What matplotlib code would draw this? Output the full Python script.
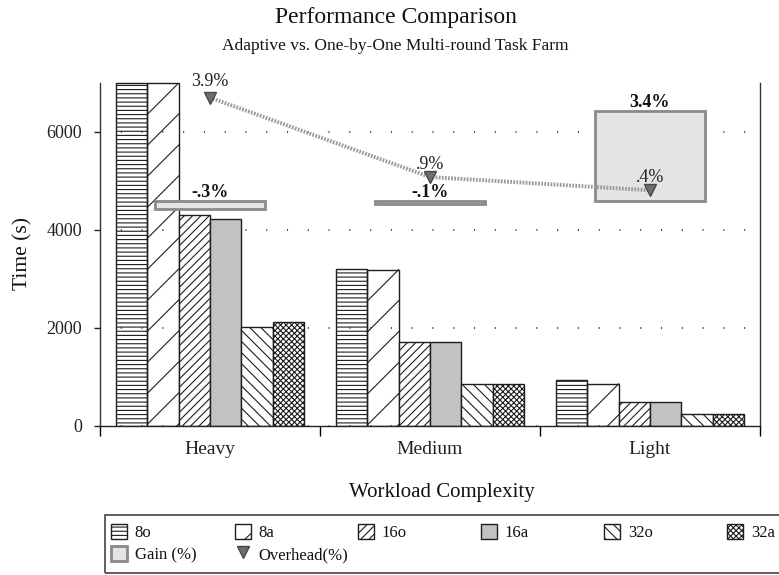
import numpy as np
import matplotlib
matplotlib.use("Agg")
import matplotlib.pyplot as plt
from matplotlib.patches import Patch, Rectangle
from matplotlib.lines import Line2D
from matplotlib.legend_handler import HandlerBase

plt.rcParams['font.family'] = ['Liberation Serif', 'DejaVu Serif']
plt.rcParams['hatch.linewidth'] = 0.8

# ---- data -------------------------------------------------------------
categories = ['Heavy', 'Medium', 'Light']
series_names = ['8o', '8a', '16o', '16a', '32o', '32a']

time_8o = [8300, 3210, 940]
time_8a = [8280, 3190, 860]
time_16o = [4300, 1710, 480]
time_16a = [4220, 1720, 480]
time_32o = [2020, 860, 240]
time_32a = [2120, 860, 240]

gain_pct = [-0.3, -0.1, 3.4]
overhead_pct = [3.9, 0.9, 0.4]

y_ticks = [0, 2000, 4000, 6000]


def pct_label(v):
    s = f"{v:.1f}"
    return s.replace('0.', '.') + '%'


# ---- figure / axes ----------------------------------------------------
W, H = 779, 575
fig = plt.figure(figsize=(W / 100, H / 100), dpi=100)
fig.patch.set_facecolor('white')
ax = fig.add_axes([100 / W, (H - 426) / H, 660 / W, 343 / H])
ax.set_xlim(-0.5, 2.5)
ax.set_ylim(0, 7000)

edge = '#1e1e1e'
styles = {
    '8o': dict(facecolor='none', hatch='----'),
    '8a': dict(facecolor='none', hatch=None),
    '16o': dict(facecolor='white', hatch='////'),
    '16a': dict(facecolor='#c2c2c2', hatch=None),
    '32o': dict(facecolor='white', hatch='\\\\\\'),
    '32a': dict(facecolor='white', hatch='xxxxxx'),
}
values = dict(zip(series_names,
                  [time_8o, time_8a, time_16o, time_16a, time_32o, time_32a]))

x = np.arange(len(categories))
bw = 0.1424
containers = {}
for i, name in enumerate(series_names):
    off = (i - (len(series_names) - 1) / 2) * bw
    containers[name] = ax.bar(x + off, values[name], width=bw,
                              edgecolor=edge, linewidth=1.0, zorder=2,
                              **styles[name])

# bars that run past the top of the scale keep a closing edge at the limit
ymax = ax.get_ylim()[1]
for name in series_names:
    for rect in containers[name]:
        if rect.get_height() > ymax:
            x0 = rect.get_x()
            ax.plot([x0, x0 + rect.get_width()], [ymax, ymax], color=edge,
                    lw=1.0, zorder=2.2, clip_on=False,
                    solid_capstyle='butt')


def sparse_diagonals(ax, bars, period_px=31, color=edge, lw=0.8):
    """Wide-spaced 45-degree hatching, clipped to each bar."""
    p0 = ax.transData.transform((0, 0))
    p1 = ax.transData.transform((1, 1))
    sx, sy = p1[0] - p0[0], p1[1] - p0[1]
    slope = sx / sy
    period = period_px / sy
    top_lim = ax.get_ylim()[1]
    for rect in bars:
        x0 = rect.get_x()
        x1 = x0 + rect.get_width()
        top = min(rect.get_height(), top_lim)
        n = int(top / period) + 3
        for k in range(n):
            yr = top - k * period
            yl = yr - (x1 - x0) * slope
            ln = Line2D([x0, x1], [yl, yr], color=color, lw=lw, zorder=2.1)
            ln.set_clip_path(rect)
            ax.add_line(ln)


sparse_diagonals(ax, containers['8a'])

# ---- axes styling -----------------------------------------------------
ax.set_axisbelow(True)
ax.set_yticks(y_ticks)
ax.yaxis.grid(True, color='#111111', linewidth=1.1, linestyle=(0, (0.7, 12.9)))
ax.spines['top'].set_visible(False)
for side in ('left', 'right'):
    ax.spines[side].set_linestyle((0, (1, 1)))
    ax.spines[side].set_color('#333333')
    ax.spines[side].set_linewidth(1.0)
ax.spines['bottom'].set_color('#222222')
ax.spines['bottom'].set_linewidth(1.0)

ax.tick_params(axis='y', length=4, width=1, direction='out', pad=9,
               labelsize=13, colors='#222222')
ax.set_xticks([-0.5, 0.5, 1.5, 2.5])
ax.set_xticklabels([])
ax.set_xticks(x, minor=True)
ax.set_xticklabels(categories, minor=True)
ax.tick_params(axis='x', which='major', length=7, width=1, direction='out')
ax.tick_params(axis='x', which='minor', length=0, pad=11, labelsize=14,
               labelcolor='#222222')

# ---- gain boxes and overhead markers on a percentage scale ------------
ax2 = ax.twinx()
ax2.set_ylim(-8.5, 4.45)
ax2.axis('off')

gain_face, gain_edge = '#e4e4e6', '#8a8a8a'
ax2.bar(x, gain_pct, width=0.5, facecolor=gain_face, edgecolor=gain_edge,
        linewidth=2.0, zorder=3)
for xi, g in zip(x, gain_pct):
    ax2.annotate(pct_label(g), (xi, max(g, 0)), xytext=(0, 3),
                 textcoords='offset points', ha='center', va='baseline',
                 fontsize=13, fontweight='bold', color='#111111', zorder=5)

line_col = '#9a9a9a'
ax2.plot(x, overhead_pct, color=line_col, linewidth=2.8,
         linestyle=(0, (0.45, 0.35)), zorder=4)
tri_face, tri_edge = '#6e6e6e', '#4a4a4a'
ax2.plot(x, overhead_pct, linestyle='none', marker='v', markersize=9,
         markerfacecolor=tri_face, markeredgecolor=tri_edge, zorder=5)
for xi, o, dy in zip(x, overhead_pct, (8, 6, 6)):
    ax2.annotate(pct_label(o), (xi, o), xytext=(0, dy),
                 textcoords='offset points', ha='center', va='baseline',
                 fontsize=13, color='#222222', zorder=6)

# ---- titles and axis labels -------------------------------------------
fig.text(396 / W, 1 - 18 / H, 'Performance Comparison', ha='center',
         va='center', fontsize=17, color='#111111')
fig.text(395 / W, 1 - 46 / H, 'Adaptive vs. One-by-One Multi-round Task Farm',
         ha='center', va='center', fontsize=12.5, color='#111111')
fig.text(23 / W, 1 - 254 / H, 'Time (s)', rotation=90, ha='center',
         va='center', fontsize=15.5, color='#111111')
fig.text(442 / W, 1 - 493 / H, 'Workload Complexity', ha='center',
         va='center', fontsize=15, color='#111111')


# ---- legend -----------------------------------------------------------
class SparseHatchHandler(HandlerBase):
    def create_artists(self, legend, orig_handle, xdescent, ydescent,
                       width, height, fontsize, trans):
        r = Rectangle((-xdescent, -ydescent), width, height,
                      facecolor='white', edgecolor=edge, linewidth=1.0,
                      transform=trans)
        ln = Line2D([-xdescent + width * 0.62, -xdescent + width],
                    [-ydescent, -ydescent + height * 0.38],
                    color=edge, lw=0.8, transform=trans)
        return [r, ln]


def series_handle(name):
    st = styles[name]
    return Patch(facecolor='white' if st['facecolor'] == 'none' else st['facecolor'],
                 edgecolor=edge, hatch=st['hatch'], linewidth=1.0)


h8a = Patch(facecolor='white', edgecolor=edge)
gain_handle = Patch(facecolor=gain_face, edgecolor=gain_edge, linewidth=2.0)
over_handle = Line2D([], [], linestyle='none', marker='v', markersize=9,
                     markerfacecolor=tri_face, markeredgecolor=tri_edge)

columns = [
    ([series_handle('8o'), gain_handle], ['8o', 'Gain (%)']),
    ([h8a, over_handle], ['8a', 'Overhead(%)']),
    ([series_handle('16o')], ['16o']),
    ([series_handle('16a')], ['16a']),
    ([series_handle('32o')], ['32o']),
    ([series_handle('32a')], ['32a']),
]
col_left = [111, 235, 358, 481, 604, 727]
for (hs, labs), xl in zip(columns, col_left):
    leg = fig.legend(hs, labs, loc='upper left',
                     bbox_to_anchor=(xl / W, 1 - 524 / H),
                     frameon=False, borderpad=0, borderaxespad=0,
                     handlelength=0.98, handleheight=1.0, handletextpad=0.45,
                     labelspacing=0.28, fontsize=12,
                     handler_map={h8a: SparseHatchHandler()})
    for t in leg.get_texts():
        t.set_color('#111111')

fig.patches.append(Rectangle((105 / W, 1 - 573 / H), (800 - 105) / W,
                             (573 - 515) / H, transform=fig.transFigure,
                             facecolor='none', edgecolor='#444444',
                             linewidth=1.2))

fig.savefig('out.png', dpi=100, facecolor='white')
